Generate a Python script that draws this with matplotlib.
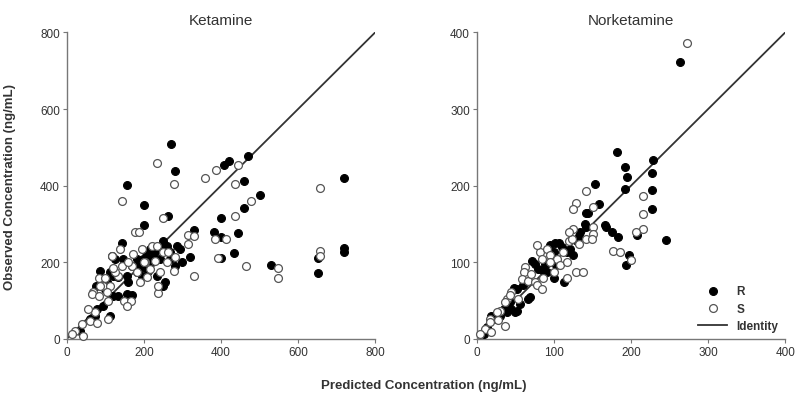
import matplotlib

matplotlib.use("Agg")
import matplotlib.pyplot as plt

plt.rcParams["font.family"] = ["Liberation Sans", "DejaVu Sans"]

# Ketamine, R enantiomer (predicted, observed) in ng/mL
KET_R_X = [270, 281, 156, 201, 201, 262, 409, 420, 470, 461, 461, 502, 400, 445, 381,
           400, 434, 400, 329, 530, 651, 651, 720, 720, 720, 281, 251, 112, 143,
           117, 126, 87, 76, 111, 121, 134, 121, 134, 156, 169, 160, 190, 195, 206,
           208, 216, 229, 242, 251, 259, 268, 285, 294, 268, 212, 199, 182, 95, 73,
           78, 35, 61, 182, 169, 234, 199, 221, 255, 156, 104, 147,
           100, 180, 225, 240, 300, 320]
KET_R_Y = [510, 439, 403, 350, 298, 322, 455, 465, 478, 413, 342, 375, 317, 276, 278,
           265, 224, 211, 285, 194, 173, 211, 421, 238, 226, 191, 139, 61, 250,
           217, 210, 178, 139, 174, 165, 161, 113, 113, 117, 115, 148, 187, 165, 226,
           213, 235, 226, 209, 256, 243, 226, 243, 235, 209, 178, 209, 209, 87, 61,
           78, 22, 52, 174, 191, 165, 187, 200, 148, 165, 148, 209,
           130, 190, 215, 240, 200, 215]

# Ketamine, S enantiomer
KET_S_X = [234, 277, 144, 176, 187, 249, 360, 388, 445, 437, 477, 437, 413, 385, 392,
           465, 330, 548, 548, 658, 658, 658, 314, 330, 314, 277, 236, 236, 108,
           117, 138, 195, 221, 234, 251, 264, 85, 95, 113, 69, 65, 85, 104, 149,
           167, 134, 143, 169, 182, 190, 208, 216, 242, 229, 204, 173, 126, 108, 73,
           56, 61, 78, 39, 22, 43, 13, 156, 87,
           100, 160, 200, 260, 280, 120]
KET_S_Y = [459, 404, 361, 278, 278, 315, 421, 441, 455, 405, 361, 320, 261, 261, 211,
           190, 165, 185, 160, 394, 229, 217, 271, 268, 248, 177, 120, 139, 52,
           217, 235, 235, 243, 243, 226, 226, 158, 139, 139, 122, 117, 113, 122, 100,
           100, 165, 191, 191, 174, 148, 161, 183, 174, 204, 200, 222, 174, 100, 70,
           78, 48, 43, 39, 22, 9, 13, 87, 139,
           160, 200, 200, 200, 215, 185]

# Norketamine, R enantiomer
NOR_R_X = [263, 182, 192, 195, 192, 228, 227, 227, 227, 246, 208, 153, 159, 141, 144,
           166, 168, 175, 183, 198, 193, 141, 132, 113,
           102, 106, 100, 103, 100, 71, 76, 80, 67, 69, 48, 52, 43, 45, 50, 52, 56,
           35, 39, 19, 24, 13, 9, 121, 130, 134, 125, 95, 89, 91, 117,
           60, 85, 110, 140, 30]
NOR_R_Y = [362, 244, 225, 212, 196, 234, 217, 195, 170, 129, 136, 202, 176, 165, 165,
           149, 146, 140, 133, 109, 96, 146, 135, 74,
           125, 125, 113, 96, 80, 102, 98, 91, 52, 55, 67, 65, 48, 39, 35, 36, 46,
           39, 35, 30, 26, 15, 7, 117, 128, 139, 109, 122, 98, 87, 113,
           70, 90, 120, 150, 30]

# Norketamine, S enantiomer
NOR_S_X = [272, 215, 215, 215, 207, 141, 129, 125, 151, 177, 186, 200, 151, 151, 125,
           117, 129, 138, 62,
           61, 58, 67, 76, 78, 84, 82, 84, 91, 95, 104, 112, 119, 124, 132, 141, 150,
           108, 117, 100, 45, 39, 37, 30, 26, 17, 17, 11, 4, 19, 37, 43, 54, 86, 78,
           70, 95, 120, 28]
NOR_S_Y = [386, 186, 163, 144, 139, 193, 177, 170, 172, 115, 113, 103, 146, 137, 143,
           80, 88, 87, 94,
           87, 78, 76, 74, 70, 65, 113, 104, 117, 109, 104, 113, 128, 130, 124, 130, 130,
           96, 100, 87, 61, 52, 48, 37, 35, 26, 22, 13, 7, 9, 17, 57, 52, 80, 122,
           85, 100, 140, 25]

PANELS = [
    ("Ketamine", KET_R_X, KET_R_Y, KET_S_X, KET_S_Y, 800, [0, 200, 400, 600, 800]),
    ("Norketamine", NOR_R_X, NOR_R_Y, NOR_S_X, NOR_S_Y, 400, [0, 100, 200, 300, 400]),
]

AX_POS = [(0.0834, 0.1626, 0.3855, 0.755), (0.596, 0.1626, 0.3855, 0.755)]
TEXT = "#333333"

fig = plt.figure(figsize=(8.0, 4.06), dpi=100)
for (title, rx, ry, sx, sy, lim, ticks), pos in zip(PANELS, AX_POS):
    ax = fig.add_axes(pos)
    ax.plot([0, lim], [0, lim], color="#333333", lw=1.3, zorder=1, label="Identity")
    ax.scatter(rx, ry, s=32, c="black", edgecolors="black", lw=0.8, zorder=3,
               clip_on=False, label="R")
    ax.scatter(sx, sy, s=32, facecolors="white", edgecolors="#555555", lw=0.9,
               zorder=3, clip_on=False, label="S")
    ax.set_xlim(0, lim)
    ax.set_ylim(0, lim)
    ax.set_xticks(ticks)
    ax.set_yticks(ticks)
    for side in ("top", "right"):
        ax.spines[side].set_visible(False)
    for side in ("left", "bottom"):
        ax.spines[side].set_color("#777777")
        ax.spines[side].set_linewidth(1.0)
    ax.tick_params(direction="out", length=3, width=0.8, color="#777777",
                   labelsize=8.5, labelcolor=TEXT, pad=2)
    ax.set_title(title, fontsize=11, color=TEXT, pad=6)

    if title == "Norketamine":
        h, l = ax.get_legend_handles_labels()
        order = [l.index("R"), l.index("S"), l.index("Identity")]
        leg = ax.legend([h[i] for i in order], [l[i] for i in order],
                        loc="lower right", frameon=False, fontsize=8.5,
                        handlelength=2.4, borderaxespad=0.2, labelspacing=0.45,
                        bbox_to_anchor=(1.0, 0.0))
        for t in leg.get_texts():
            t.set_color(TEXT)
            t.set_fontweight("bold")

fig.text(0.013, 0.54, "Observed Concentration (ng/mL)", rotation=90, ha="center",
         va="center", fontsize=9.5, fontweight="bold", color=TEXT)
fig.text(0.53, 0.05, "Predicted Concentration (ng/mL)", ha="center", va="center",
         fontsize=9.5, fontweight="bold", color=TEXT)

fig.savefig("out.png", dpi=100)
